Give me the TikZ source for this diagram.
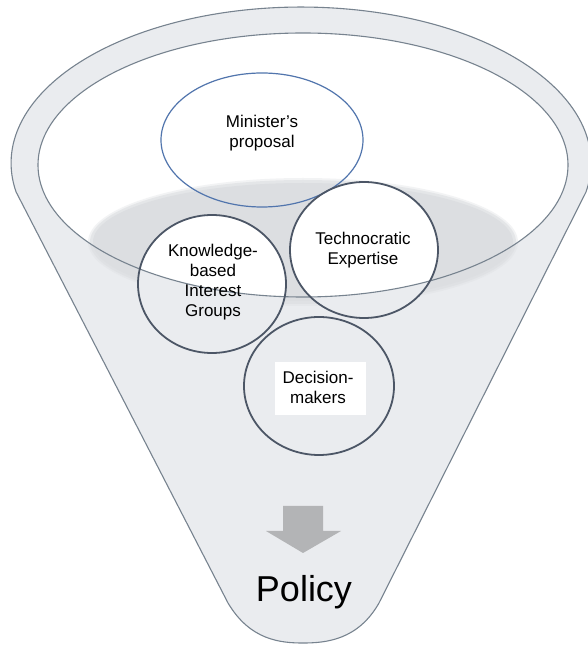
\documentclass[tikz,border=0pt]{standalone}
\usepackage{fontspec}
\setmainfont{Liberation Sans}
\usetikzlibrary{shapes.geometric}
\begin{document}
\begin{tikzpicture}[x=1pt,y=1pt,
  funnelline/.style={draw=rimgray, line width=1.1pt},
  label/.style={align=center, font=\fontsize{17}{20}\selectfont},
  blob/.style={ellipse, draw=ringgray, line width=1.8pt, inner sep=0pt},
  propose/.style={ellipse, draw=ringblue, line width=1.2pt, inner sep=0pt}]
\definecolor{funnelfill}{HTML}{EAECEF}
\definecolor{rimgray}{HTML}{77838F}
\definecolor{ringgray}{HTML}{4C5666}
\definecolor{ringblue}{HTML}{5175AD}
\definecolor{poolgray}{HTML}{DCDEE1}
\definecolor{arrowgray}{HTML}{B3B4B6}
\useasboundingbox (0,0) rectangle (588,646);

% funnel body: upper rim arc, straight sides, rounded spout
\path[funnelline, fill=funnelfill]
  (586,454) arc[start angle=-10.7, end angle=190.7, x radius=290, y radius=156]
  -- (228,43) .. controls (250,6) and (280,3) .. (303,3)
  .. controls (326,3) and (358,6) .. (379,43) -- cycle;

% inner opening of the rim
\fill[white] (303,481) ellipse[x radius=265, y radius=132];

% soft grey pool with a feathered edge
\fill[poolgray, opacity=0.35] (303,404) ellipse[x radius=215, y radius=64];
\fill[poolgray, opacity=0.6] (303,404) ellipse[x radius=213, y radius=62];
\fill[poolgray] (303,404) ellipse[x radius=210, y radius=59];

% backgrounds of the two circles sitting across the rim
\fill[funnelfill] (212,362) ellipse[x radius=74, y radius=69];
\fill[funnelfill] (364,396) ellipse[x radius=74, y radius=68];
\begin{scope}
  \clip (303,481) ellipse[x radius=265, y radius=132];
  \fill[white] (212,362) ellipse[x radius=74, y radius=69];
  \fill[white] (364,396) ellipse[x radius=74, y radius=68];
\end{scope}

% rim outline
\draw[funnelline] (303,481) ellipse[x radius=265, y radius=132];

% the actors
\node[propose, minimum width=202pt, minimum height=134pt] (minister) at (262,506) {};
\node[label] (ministertxt) at (262,513) {Minister’s\\proposal};

\node[blob, minimum width=148pt, minimum height=138pt] (knowledge) at (212,362) {};
\node[label] (knowledgetxt) at (213,364) {Knowledge-\\based\\Interest\\Groups};

\node[blob, minimum width=148pt, minimum height=136pt] (techno) at (364,396) {};
\node[label] (technotxt) at (363,396) {Technocratic\\Expertise};

\node[blob, minimum width=150pt, minimum height=138pt] (decision) at (319,260) {};
\fill[white] (275,231) rectangle (366,284);
\node[label] (decisiontxt) at (318,259) {Decision-\\makers};

% downward arrow into the spout
\fill[arrowgray] (283,140) -- (323,140) -- (323,115) -- (341,115) -- (303,93)
  -- (266,115) -- (283,115) -- cycle;

\node[font=\fontsize{36}{40}\selectfont, anchor=base] (policy) at (304,44) {Policy};
\end{tikzpicture}
\end{document}
